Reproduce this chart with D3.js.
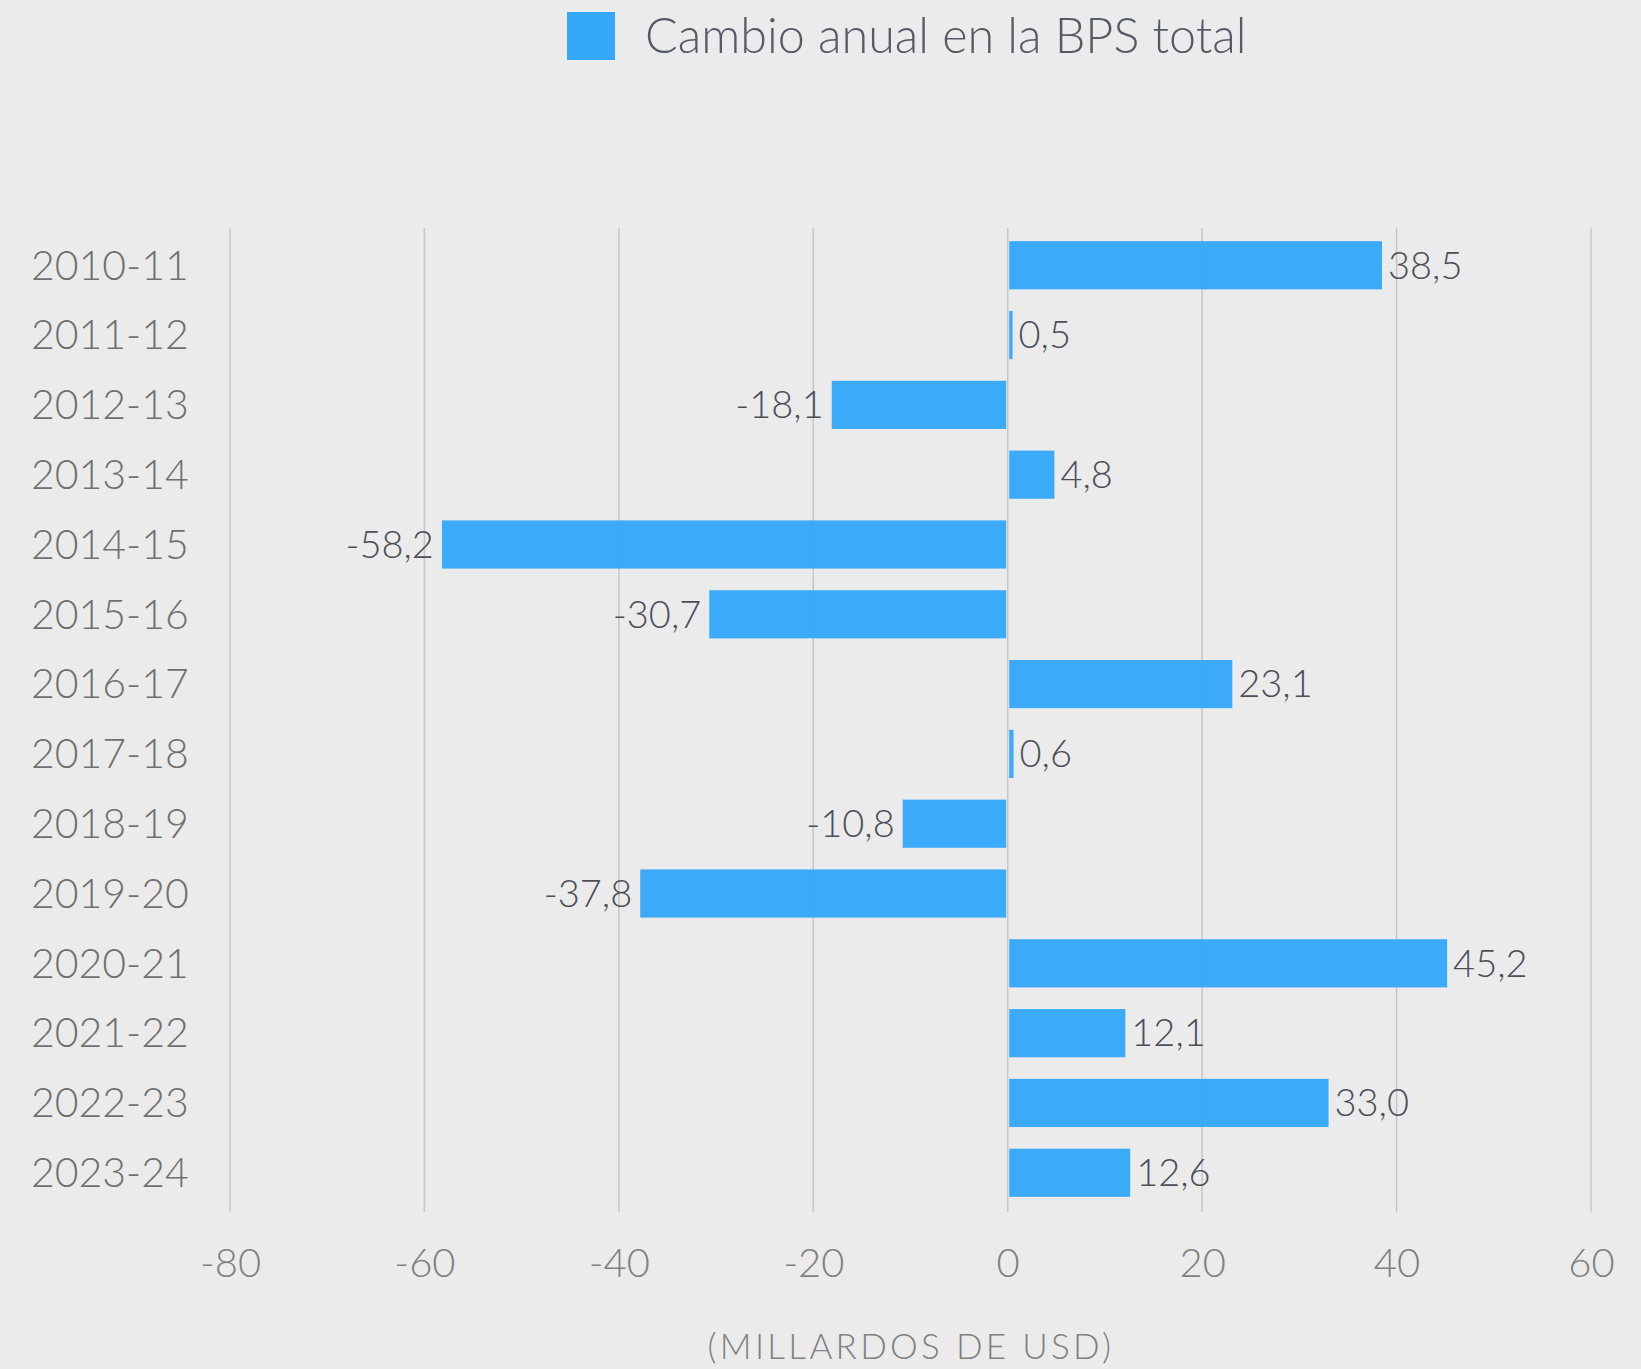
<!DOCTYPE html>
<html>
<head>
<meta charset="utf-8">
<script src="https://cdn.jsdelivr.net/npm/d3@7"></script>
<style>
  html, body { margin: 0; padding: 0; background: #ebebeb; }
  svg { display: block; }
  text { font-family: Lato, "Noto Sans", sans-serif; font-weight: 300; }
</style>
</head>
<body>
<script>
const categories = ["2010-11","2011-12","2012-13","2013-14","2014-15","2015-16","2016-17","2017-18","2018-19","2019-20","2020-21","2021-22","2022-23","2023-24"];
const values = [38.5, 0.5, -18.1, 4.8, -58.2, -30.7, 23.1, 0.6, -10.8, -37.8, 45.2, 12.1, 33.0, 12.6];
const xTicks = [-80, -60, -40, -20, 0, 20, 40, 60];
const seriesName = "Cambio anual en la BPS total";
const axisTitle = "(MILLARDOS DE USD)";

const W = 1641, H = 1369;
const svg = d3.select("body").append("svg").attr("width", W).attr("height", H);
svg.append("rect").attr("width", W).attr("height", H).attr("fill", "#ebebeb");

const x = d3.scaleLinear().domain([-80, 60]).range([230, 1591]);
const y = d3.scaleBand().domain(categories).range([230, 1208]).paddingInner(0.31).paddingOuter(0.16);

const barColor = "#35a8f9";
const fmt = v => v.toFixed(1).replace(".", ",");

// gridlines
svg.append("g").selectAll("line").data(xTicks).join("line")
  .attr("x1", d => x(d)).attr("x2", d => x(d))
  .attr("y1", 228).attr("y2", 1212)
  .attr("stroke", "#c6c6c6").attr("stroke-width", 1.5);

// x axis labels
const xAxis = d3.axisBottom(x).tickValues(xTicks).tickSize(0).tickPadding(0).tickFormat(d => d);
const gx = svg.append("g").attr("transform", "translate(0,1263)").call(xAxis);
gx.select(".domain").remove();
gx.selectAll("text").attr("font-size", 40).attr("fill", "#808080").attr("dy", "0.35em")
  .attr("font-family", "Lato, sans-serif").attr("font-weight", 300);

// y axis labels
const yAxis = d3.axisLeft(y).tickSize(0).tickPadding(0);
const gy = svg.append("g").call(yAxis);
gy.select(".domain").remove();
gy.selectAll("text").attr("text-anchor", "start").attr("x", 31).attr("font-size", 41).attr("fill", "#707070")
  .attr("dy", "0.35em").attr("font-family", "Lato, sans-serif").attr("font-weight", 300);

// bars
svg.append("g").selectAll("rect").data(values).join("rect")
  .attr("x", d => d >= 0 ? x(0) + 1.5 : x(d))
  .attr("width", d => Math.max(Math.abs(x(d) - x(0)) - 1.5, 3))
  .attr("y", (d, i) => y(categories[i]))
  .attr("height", y.bandwidth())
  .attr("fill", barColor).attr("fill-opacity", 0.97);

// value labels
svg.append("g").selectAll("text").data(values).join("text")
  .attr("x", d => d >= 0 ? Math.max(x(d), x(0) + 4) + 6 : x(d) - 8)
  .attr("y", (d, i) => y(categories[i]) + y.bandwidth() / 2)
  .attr("dy", "0.35em")
  .attr("text-anchor", d => d >= 0 ? "start" : "end")
  .attr("font-size", 38).attr("font-weight", 300).attr("fill", "#4a4f58")
  .text(d => fmt(d));

// legend
svg.append("rect").attr("x", 567).attr("y", 12).attr("width", 48).attr("height", 48).attr("fill", barColor);
svg.append("text").attr("x", 645).attr("y", 36).attr("dy", "0.35em")
  .attr("font-size", 48.5).attr("fill", "#555a65").text(seriesName);

// axis title
svg.append("text").attr("x", 911).attr("y", 1347).attr("dy", "0.35em")
  .attr("text-anchor", "middle").attr("font-size", 35).attr("letter-spacing", 3.3)
  .attr("fill", "#808080").text(axisTitle);
</script>
</body>
</html>
